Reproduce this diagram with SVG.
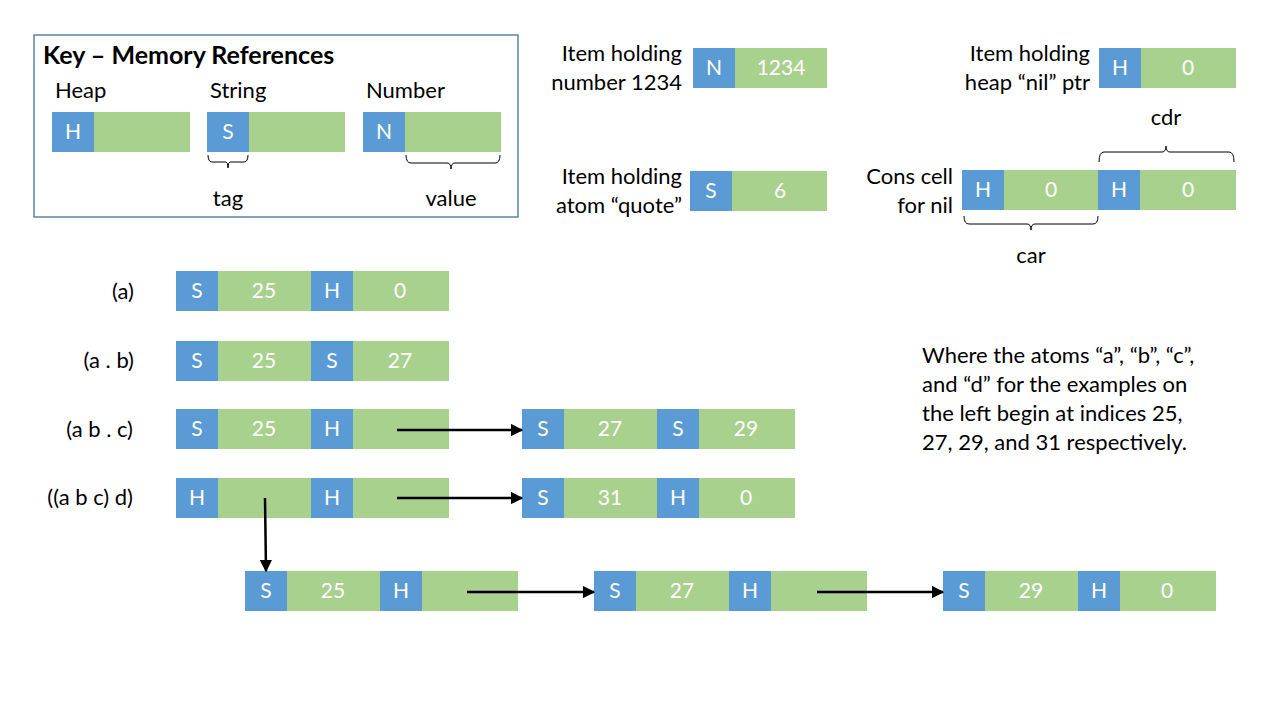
<svg xmlns="http://www.w3.org/2000/svg" width="1280" height="720" viewBox="0 0 1280 720">
<defs>
<style>
.b{fill:#5b9bd5}
.g{fill:#a9d18e}
.ct{font-family:Lato,"Liberation Sans",sans-serif;font-size:21px;fill:#ffffff;text-anchor:middle}
.lb{font-family:Lato,"Liberation Sans",sans-serif;font-size:22px;fill:#000000}
.r{text-anchor:end}
.m{text-anchor:middle}
.br{fill:none;stroke:#000;stroke-width:1}
.cn{stroke:#000;stroke-width:2.5;fill:none;marker-end:url(#ah)}
</style>
<marker id="ah" viewBox="0 0 10 10" refX="9" refY="5" markerWidth="5" markerHeight="5" orient="auto" markerUnits="strokeWidth">
<path d="M0,0 L10,5 L0,10 z" fill="#000"/>
</marker>
</defs>
<rect width="1280" height="720" fill="#ffffff"/>

<g id="key">
<rect x="34" y="35" width="484" height="182" fill="none" stroke="#41719c" stroke-width="1.3"/>
<text class="lb" x="43" y="64" style="font-weight:bold;font-size:25px">Key – Memory References</text>
<text class="lb" x="55" y="98">Heap</text>
<text class="lb" x="210" y="98">String</text>
<text class="lb" x="366" y="98">Number</text>
<rect class="b" x="52" y="112" width="42" height="40"/><rect class="g" x="94" y="112" width="96" height="40"/>
<text class="ct" x="73" y="139">H</text>
<rect class="b" x="207" y="112" width="42" height="40"/><rect class="g" x="249" y="112" width="96" height="40"/>
<text class="ct" x="228" y="139">S</text>
<rect class="b" x="363" y="112" width="42" height="40"/><rect class="g" x="405" y="112" width="96" height="40"/>
<text class="ct" x="384" y="139">N</text>
<path class="br" d="M208,155 Q208,162 212,162 L226,162 Q228,162 228,168 Q228,162 230,162 L244,162 Q248,162 248,155"/>
<text class="lb m" x="228" y="206">tag</text>
<path class="br" d="M406,155 Q406,163 411,163 L447,163 Q451,163 451,169 Q451,163 455,163 L495,163 Q500,163 500,155"/>
<text class="lb m" x="451" y="206">value</text>
</g>

<g id="item-number">
<text class="lb r" x="682" y="61">Item holding</text>
<text class="lb r" x="682" y="90">number 1234</text>
<rect class="b" x="693" y="48" width="42" height="40"/><rect class="g" x="735" y="48" width="92" height="40"/>
<text class="ct" x="714" y="75">N</text><text class="ct" x="781" y="75">1234</text>
</g>

<g id="item-quote">
<text class="lb r" x="682" y="184">Item holding</text>
<text class="lb r" x="682" y="213">atom “quote”</text>
<rect class="b" x="690" y="171" width="42" height="40"/><rect class="g" x="732" y="171" width="95" height="40"/>
<text class="ct" x="711" y="198">S</text><text class="ct" x="780" y="198">6</text>
</g>

<g id="item-nil">
<text class="lb r" x="1090" y="61">Item holding</text>
<text class="lb r" x="1090" y="90">heap “nil” ptr</text>
<rect class="b" x="1099" y="48" width="42" height="40"/><rect class="g" x="1141" y="48" width="95" height="40"/>
<text class="ct" x="1120" y="75">H</text><text class="ct" x="1188" y="75">0</text>
</g>

<g id="cons-nil">
<text class="lb r" x="953" y="184">Cons cell</text>
<text class="lb r" x="953" y="213">for nil</text>
<rect class="b" x="962" y="170" width="42" height="40"/><rect class="g" x="1004" y="170" width="94" height="40"/>
<rect class="b" x="1098" y="170" width="42" height="40"/><rect class="g" x="1140" y="170" width="96" height="40"/>
<text class="ct" x="983" y="197">H</text><text class="ct" x="1051" y="197">0</text>
<text class="ct" x="1119" y="197">H</text><text class="ct" x="1188" y="197">0</text>
<path class="br" d="M964,216 Q964,224 969,224 L1027,224 Q1031,224 1031,230 Q1031,224 1035,224 L1093,224 Q1098,224 1098,216"/>
<text class="lb m" x="1031" y="263">car</text>
<path class="br" d="M1099,162 Q1099,152 1104,152 L1162,152 Q1166,152 1166,146 Q1166,152 1170,152 L1229,152 Q1234,152 1234,162"/>
<text class="lb m" x="1166" y="125">cdr</text>
</g>

<g id="note">
<text class="lb" x="922" y="363">Where the atoms “a”, “b”, “c”,</text>
<text class="lb" x="922" y="392">and “d” for the examples on</text>
<text class="lb" x="922" y="421">the left begin at indices 25,</text>
<text class="lb" x="922" y="450">27, 29, and 31 respectively.</text>
</g>

<g id="row-a">
<text class="lb r" x="134" y="299">(a)</text>
<rect class="b" x="176" y="271" width="42" height="40"/><rect class="g" x="218" y="271" width="93" height="40"/>
<rect class="b" x="311" y="271" width="42" height="40"/><rect class="g" x="353" y="271" width="96" height="40"/>
<text class="ct" x="197" y="298">S</text><text class="ct" x="264" y="298">25</text>
<text class="ct" x="332" y="298">H</text><text class="ct" x="400" y="298">0</text>
</g>

<g id="row-ab">
<text class="lb r" x="134" y="368">(a . b)</text>
<rect class="b" x="176" y="341" width="42" height="40"/><rect class="g" x="218" y="341" width="93" height="40"/>
<rect class="b" x="311" y="341" width="42" height="40"/><rect class="g" x="353" y="341" width="96" height="40"/>
<text class="ct" x="197" y="368">S</text><text class="ct" x="264" y="368">25</text>
<text class="ct" x="332" y="368">S</text><text class="ct" x="400" y="368">27</text>
</g>

<g id="row-abc">
<text class="lb r" x="133" y="437">(a b . c)</text>
<rect class="b" x="176" y="409" width="42" height="40"/><rect class="g" x="218" y="409" width="93" height="40"/>
<rect class="b" x="311" y="409" width="42" height="40"/><rect class="g" x="353" y="409" width="96" height="40"/>
<text class="ct" x="197" y="436">S</text><text class="ct" x="264" y="436">25</text>
<text class="ct" x="332" y="436">H</text>
</g>

<g id="row-abc-2">
<rect class="b" x="522" y="409" width="42" height="40"/><rect class="g" x="564" y="409" width="93" height="40"/>
<rect class="b" x="657" y="409" width="42" height="40"/><rect class="g" x="699" y="409" width="96" height="40"/>
<text class="ct" x="543" y="436">S</text><text class="ct" x="610" y="436">27</text>
<text class="ct" x="678" y="436">S</text><text class="ct" x="746" y="436">29</text>
</g>

<g id="row-abcd">
<text class="lb r" x="133" y="505">((a b c) d)</text>
<rect class="b" x="176" y="478" width="42" height="40"/><rect class="g" x="218" y="478" width="93" height="40"/>
<rect class="b" x="311" y="478" width="42" height="40"/><rect class="g" x="353" y="478" width="96" height="40"/>
<text class="ct" x="197" y="505">H</text>
<text class="ct" x="332" y="505">H</text>
</g>

<g id="row-abcd-2">
<rect class="b" x="522" y="478" width="42" height="40"/><rect class="g" x="564" y="478" width="93" height="40"/>
<rect class="b" x="657" y="478" width="42" height="40"/><rect class="g" x="699" y="478" width="96" height="40"/>
<text class="ct" x="543" y="505">S</text><text class="ct" x="610" y="505">31</text>
<text class="ct" x="678" y="505">H</text><text class="ct" x="746" y="505">0</text>
</g>

<g id="sub-1">
<rect class="b" x="245" y="571" width="42" height="40"/><rect class="g" x="287" y="571" width="93" height="40"/>
<rect class="b" x="380" y="571" width="42" height="40"/><rect class="g" x="422" y="571" width="96" height="40"/>
<text class="ct" x="266" y="598">S</text><text class="ct" x="333" y="598">25</text>
<text class="ct" x="401" y="598">H</text>
</g>

<g id="sub-2">
<rect class="b" x="594" y="571" width="42" height="40"/><rect class="g" x="636" y="571" width="93" height="40"/>
<rect class="b" x="729" y="571" width="42" height="40"/><rect class="g" x="771" y="571" width="96" height="40"/>
<text class="ct" x="615" y="598">S</text><text class="ct" x="682" y="598">27</text>
<text class="ct" x="750" y="598">H</text>
</g>

<g id="sub-3">
<rect class="b" x="943" y="571" width="42" height="40"/><rect class="g" x="985" y="571" width="93" height="40"/>
<rect class="b" x="1078" y="571" width="42" height="40"/><rect class="g" x="1120" y="571" width="96" height="40"/>
<text class="ct" x="964" y="598">S</text><text class="ct" x="1031" y="598">29</text>
<text class="ct" x="1099" y="598">H</text><text class="ct" x="1167" y="598">0</text>
</g>

<g id="connectors">
<line class="cn" x1="397" y1="430" x2="522" y2="430"/>
<line class="cn" x1="397" y1="498" x2="522" y2="498"/>
<line class="cn" x1="265" y1="498" x2="266" y2="571"/>
<line class="cn" x1="467" y1="592" x2="594" y2="592"/>
<line class="cn" x1="817" y1="592" x2="943" y2="592"/>
</g>
</svg>
